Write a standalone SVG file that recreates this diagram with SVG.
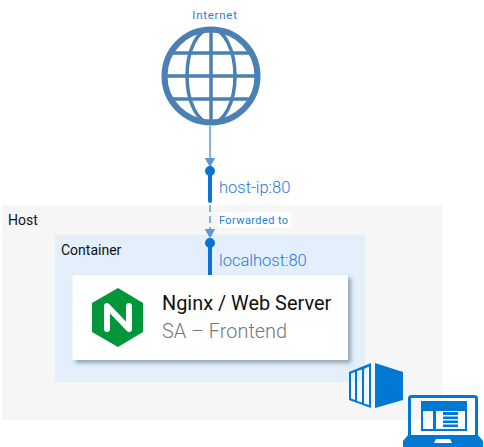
<svg xmlns="http://www.w3.org/2000/svg" width="484" height="447" viewBox="0 0 484 447">
<defs>
<filter id="sh" x="-5%" y="-10%" width="115%" height="125%"><feDropShadow dx="3" dy="3" stdDeviation="2" flood-color="#5a6f80" flood-opacity="0.6"/></filter>
<marker id="ah" markerWidth="10" markerHeight="12" refX="9.5" refY="6" orient="auto" markerUnits="userSpaceOnUse"><path d="M0 0.500L10 6L0 11.500Z" fill="#5b9bd5"/></marker>
</defs>
<style>
.r{font-family:Roboto,"Liberation Sans",sans-serif}
.b{fill:#1f7ae0;font-weight:300}
.s{fill:#2a7fd0;font-weight:400}
.thick{stroke:#0a73d4;stroke-width:4;stroke-linecap:round;fill:none}
.thin{stroke:#5b9bd5;stroke-width:1.5;fill:none}
.g{fill:none;stroke:#4a80b4}
.ic{fill:#0078d4}
</style>
<g id="host"><rect x="2" y="205" width="440" height="215" fill="#f6f6f6"/><text class="r" x="8" y="225" font-size="14" fill="#111">Host</text></g>
<g id="container"><rect x="55" y="235" width="310" height="147" fill="#e3f0fc"/><text class="r" x="61" y="255" font-size="14" fill="#111">Container</text></g>
<g id="connectors">
<path class="thin" d="M210 126V167" marker-end="url(#ah)"/>
<circle cx="210" cy="171" r="5" fill="#0a73d4"/>
<path class="thick" d="M210 174V201"/>
<path class="thin" d="M210 205V238" stroke-dasharray="7 4" marker-end="url(#ah)"/>
<circle cx="210" cy="243" r="5" fill="#0a73d4"/>
<path class="thick" d="M210 246V275"/>
</g>
<g id="forwarded"><rect x="218" y="212" width="73" height="15" fill="#fff"/><text class="r s" x="219" y="224" font-size="11" letter-spacing="0.4">Forwarded to</text></g>
<g id="internet">
<text class="r s" x="215" y="19" font-size="11.500" text-anchor="middle" letter-spacing="0.75">Internet</text>
<circle class="g" cx="211" cy="76" r="46.500" stroke-width="6"/>
<ellipse class="g" cx="211" cy="76" rx="24" ry="47" stroke-width="3.500"/>
<path class="g" stroke-width="3.500" d="M211 28V124M164 76H258M172 53H250M172 99H250"/>
</g>
<g id="host-ip"><text class="r b" x="219" y="193" font-size="16.500">host-ip:80</text></g>
<g id="localhost"><text class="r b" x="219" y="266" font-size="16.500">localhost:80</text></g>
<g id="nginx">
<rect x="72.500" y="275" width="275.500" height="85" fill="#fff" filter="url(#sh)"/>
<path d="M118 288L143 303V332L118 347L92 332V303Z" fill="#009639"/>
<path d="M107 329V306L129 329V306" fill="none" stroke="#fff" stroke-width="6" stroke-linecap="round" stroke-linejoin="round"/>
<text class="r" x="162" y="310" font-size="19.900" fill="#111">Nginx / Web Server</text>
<text class="r" x="162" y="338" font-size="19.900" font-weight="300" fill="#777">SA – Frontend</text>
</g>
<g id="container-icon">
<path class="ic" d="M375 363L403 372V400L375 408Z"/>
<path class="ic" fill-rule="evenodd" d="M349 372L371 363V408L349 400ZM351 373.500V398.500L355 400V372ZM357 371V401L362 402.500V369.500ZM364 369V403.500L369 405V366.500Z"/>
</g>
<g id="laptop-icon">
<path class="ic" fill-rule="evenodd" d="M412 395H474Q478 395 478 398V435L483 441V447H403V441L408 435V398Q408 395 412 395ZM411 398V435H475V398ZM436 439L434 443H452L450 439Z"/>
<path class="ic" fill-rule="evenodd" d="M421 401H467V431H421ZM423 411V429H433V411ZM436 411V429H465V411Z"/>
<path class="ic" d="M443 412H458V415H443ZM443 416.500H458V419H443ZM443 420.500H458V423H443ZM443 424.500H458V427H443Z"/>
</g>
</svg>
